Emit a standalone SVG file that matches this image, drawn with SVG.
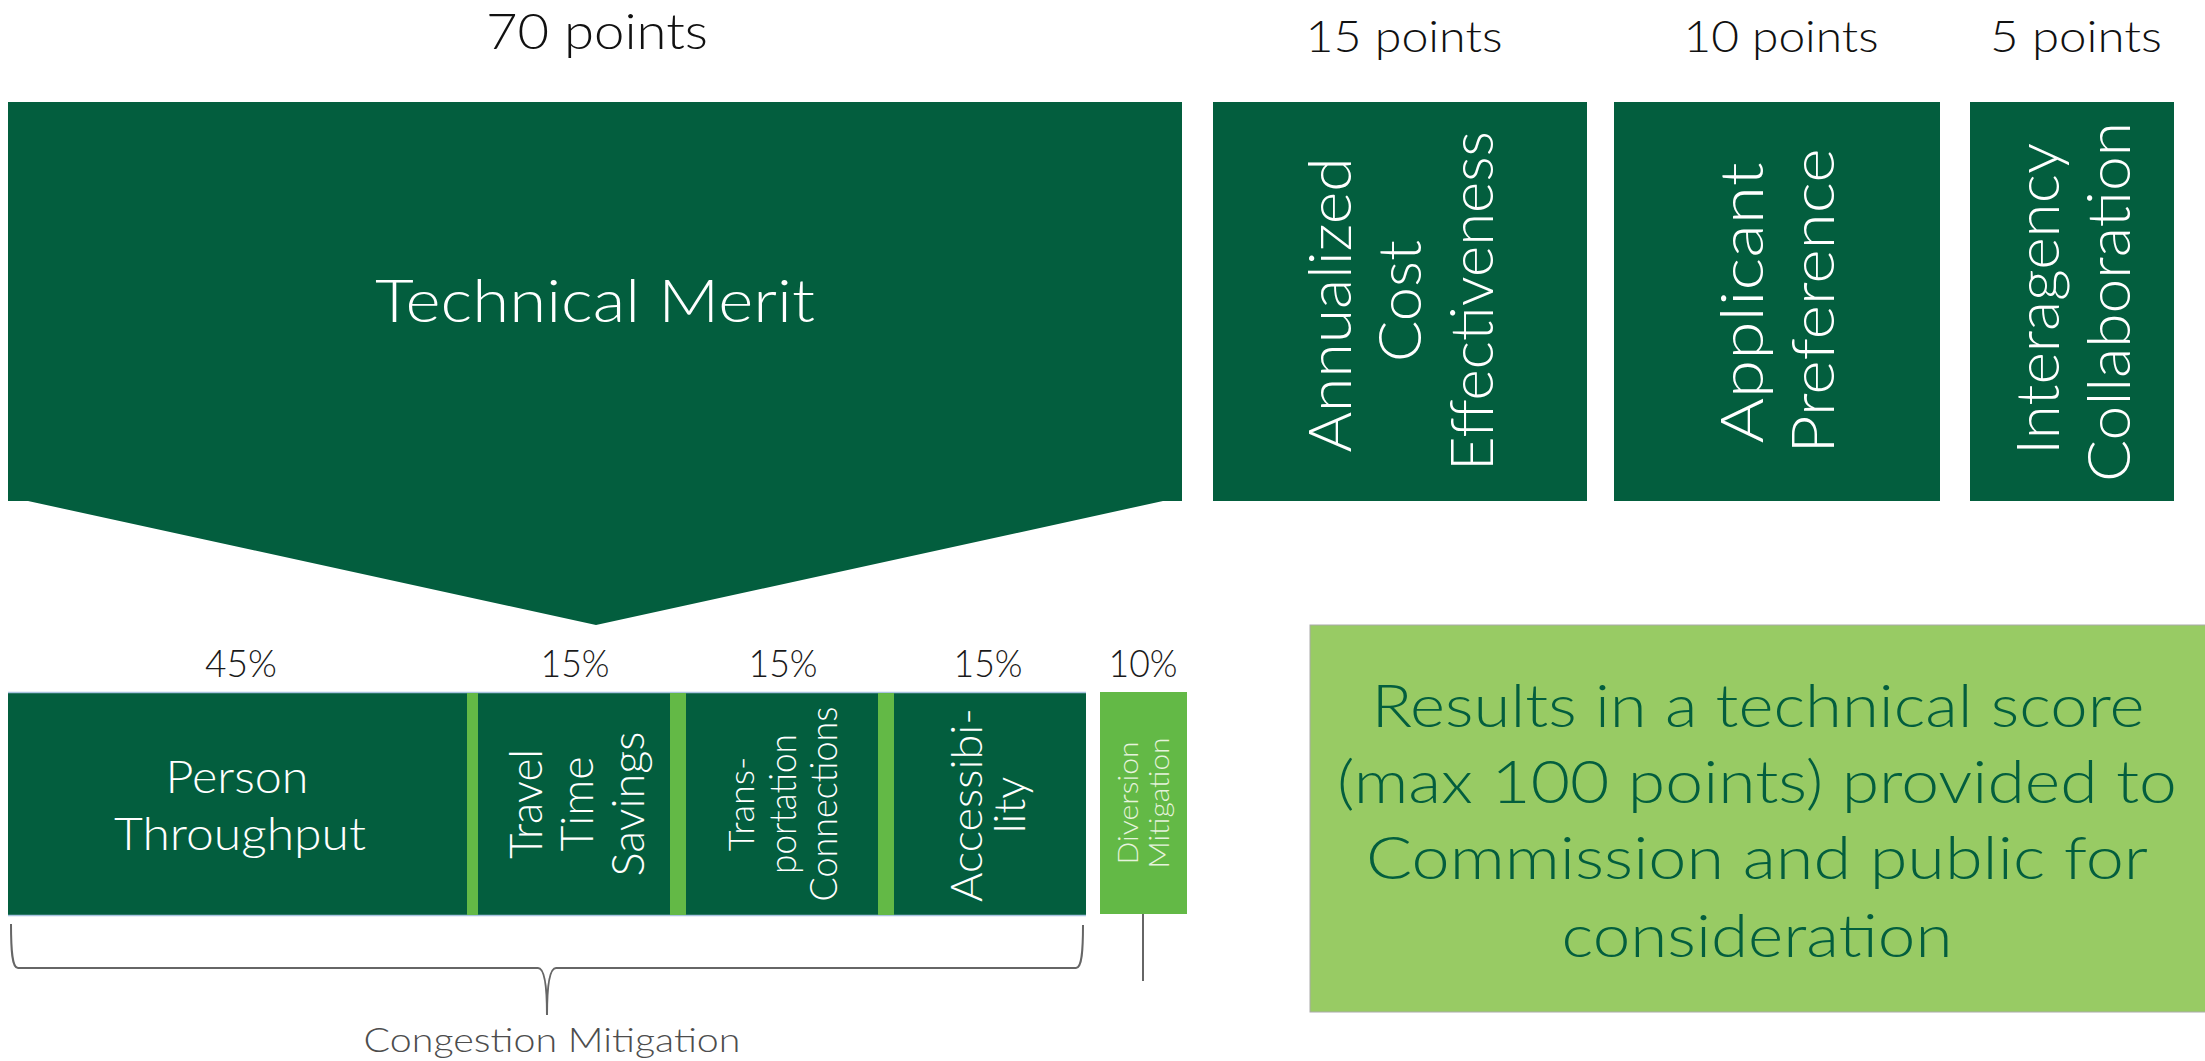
<svg xmlns="http://www.w3.org/2000/svg" width="2205" height="1061" viewBox="0 0 2205 1061">
<style>
text{font-family:Lato,"Liberation Sans",sans-serif;font-weight:300;text-anchor:middle}
.dk{fill:#035e3e}
.lg{fill:#63b946}
.w{fill:#ffffff}
.pts{fill:#111111}
.pct{fill:#1a1a1a;font-size:37px}
.br{fill:none;stroke:#666666;stroke-width:2}
</style>
<rect width="2205" height="1061" fill="#ffffff"/>

<g id="labels-top">
<text class="pts" x="597" y="49" font-size="50" textLength="222" lengthAdjust="spacingAndGlyphs">70 points</text>
<text class="pts" x="1404" y="52" font-size="44" textLength="197" lengthAdjust="spacingAndGlyphs">15 points</text>
<text class="pts" x="1781" y="52" font-size="44" textLength="195" lengthAdjust="spacingAndGlyphs">10 points</text>
<text class="pts" x="2076" y="52" font-size="44" textLength="172" lengthAdjust="spacingAndGlyphs">5 points</text>
</g>

<g id="technical-merit">
<path class="dk" d="M8,102 H1182 V501 H1163 L596,625 L28,501 H8 Z"/>
<text class="w" x="595" y="322" font-size="60" textLength="440" lengthAdjust="spacingAndGlyphs">Technical Merit</text>
</g>

<g id="cost-effectiveness">
<rect class="dk" x="1213" y="102" width="374" height="399"/>
<g transform="translate(1400,301) rotate(-90)">
<text class="w" font-size="60" x="-4" y="-49" textLength="295" lengthAdjust="spacingAndGlyphs">Annualized</text>
<text class="w" font-size="60" x="0" y="21" textLength="122" lengthAdjust="spacingAndGlyphs">Cost</text>
<text class="w" font-size="60" x="0" y="93" textLength="340" lengthAdjust="spacingAndGlyphs">Effectiveness</text>
</g>
</g>

<g id="applicant-preference">
<rect class="dk" x="1614" y="102" width="326" height="399"/>
<g transform="translate(1777,301) rotate(-90)">
<text class="w" font-size="60" x="-2" y="-14" textLength="281" lengthAdjust="spacingAndGlyphs">Applicant</text>
<text class="w" font-size="60" x="0" y="57" textLength="305" lengthAdjust="spacingAndGlyphs">Preference</text>
</g>
</g>

<g id="interagency-collaboration">
<rect class="dk" x="1970" y="102" width="204" height="399"/>
<g transform="translate(2072,301) rotate(-90)">
<text class="w" font-size="60" x="2" y="-13" textLength="312" lengthAdjust="spacingAndGlyphs">Interagency</text>
<text class="w" font-size="60" x="-1" y="58" textLength="360" lengthAdjust="spacingAndGlyphs">Collaboration</text>
</g>
</g>

<g id="percent-labels">
<text class="pct" x="241" y="677" textLength="72" lengthAdjust="spacingAndGlyphs">45%</text>
<text class="pct" x="575" y="677" textLength="69" lengthAdjust="spacingAndGlyphs">15%</text>
<text class="pct" x="783" y="677" textLength="69" lengthAdjust="spacingAndGlyphs">15%</text>
<text class="pct" x="988" y="677" textLength="69" lengthAdjust="spacingAndGlyphs">15%</text>
<text class="pct" x="1143" y="677" textLength="69" lengthAdjust="spacingAndGlyphs">10%</text>
</g>

<g id="congestion-bar">
<rect class="dk" x="8" y="693" width="1078" height="222"/>
<line x1="8" y1="692.5" x2="1086" y2="692.5" stroke="#a9c4e0" stroke-width="1.5"/>
<line x1="8" y1="915.5" x2="1086" y2="915.5" stroke="#a9c4e0" stroke-width="1.5"/>
<rect class="lg" x="467" y="693" width="11" height="222"/>
<rect class="lg" x="670" y="693" width="16" height="222"/>
<rect class="lg" x="878" y="693" width="16" height="222"/>
</g>

<g id="person-throughput">
<text class="w" x="237" y="793" font-size="46" textLength="143" lengthAdjust="spacingAndGlyphs">Person</text>
<text class="w" x="240" y="850" font-size="46" textLength="252" lengthAdjust="spacingAndGlyphs">Throughput</text>
</g>

<g id="travel-time-savings">
<g transform="translate(574,804) rotate(-90)">
<text class="w" font-size="45" x="0" y="-32" textLength="110" lengthAdjust="spacingAndGlyphs">Travel</text>
<text class="w" font-size="45" x="0" y="19" textLength="95" lengthAdjust="spacingAndGlyphs">Time</text>
<text class="w" font-size="45" x="0" y="70" textLength="145" lengthAdjust="spacingAndGlyphs">Savings</text>
</g>
</g>

<g id="transportation-connections">
<g transform="translate(781,804) rotate(-90)">
<text class="w" font-size="36" x="0" y="-27">Trans-</text>
<text class="w" font-size="37" x="0" y="15" textLength="140" lengthAdjust="spacingAndGlyphs">portation</text>
<text class="w" font-size="37" x="0" y="56" textLength="195" lengthAdjust="spacingAndGlyphs">Connections</text>
</g>
</g>

<g id="accessibility">
<g transform="translate(990,805) rotate(-90)">
<text class="w" font-size="44" x="0" y="-8" textLength="194" lengthAdjust="spacingAndGlyphs">Accessibi-</text>
<text class="w" font-size="44" x="0" y="35">lity</text>
</g>
</g>

<g id="diversion-mitigation">
<rect class="lg" x="1100" y="692" width="87" height="222"/>
<g transform="translate(1144,803) rotate(-90)">
<text font-size="28" x="0" y="-6" fill="#e6f3dc" font-weight="400" textLength="123" lengthAdjust="spacingAndGlyphs">Diversion</text>
<text font-size="28" x="0" y="25" fill="#e6f3dc" font-weight="400" textLength="131" lengthAdjust="spacingAndGlyphs">Mitigation</text>
</g>
</g>

<g id="connectors">
<path class="br" d="M11,924 C11,950 12,968 18,968 H538 C544,968 547,985 547,1015 C547,985 550,968 556,968 H1076 C1082,968 1083,950 1083,925"/>
<line class="br" x1="1143" y1="914" x2="1143" y2="981"/>
</g>

<g id="congestion-label">
<text x="552" y="1052" font-size="34" fill="#4d4d4d" textLength="377" lengthAdjust="spacingAndGlyphs">Congestion Mitigation</text>
</g>

<g id="results">
<rect x="1310" y="625" width="900" height="387" fill="#98cb64" stroke="#aaaaaa" stroke-width="1"/>
<text x="1758" y="727" font-size="60" fill="#035e3e" textLength="773" lengthAdjust="spacingAndGlyphs">Results in a technical score</text>
<text x="1757" y="803" font-size="60" fill="#035e3e" textLength="840" lengthAdjust="spacingAndGlyphs">(max 100 points) provided to</text>
<text x="1757" y="879" font-size="60" fill="#035e3e" textLength="782" lengthAdjust="spacingAndGlyphs">Commission and public for</text>
<text x="1757" y="957" font-size="60" fill="#035e3e" textLength="391" lengthAdjust="spacingAndGlyphs">consideration</text>
</g>
</svg>
